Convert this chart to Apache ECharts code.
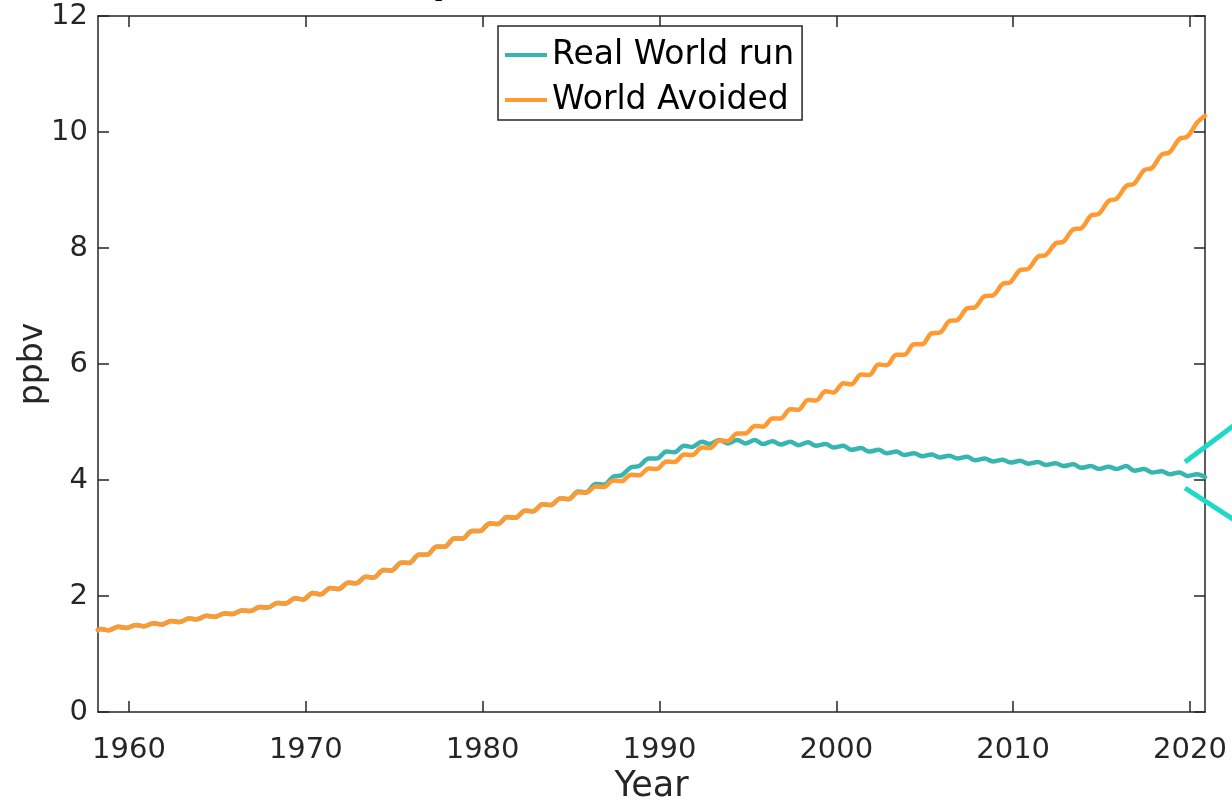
<!DOCTYPE html>
<html>
<head>
<meta charset="utf-8">
<script src="https://cdn.jsdelivr.net/npm/echarts@6/dist/echarts.min.js"></script>
<style>
  html, body { margin: 0; padding: 0; background: #ffffff; }
  #chart { width: 1232px; height: 805px; }
</style>
</head>
<body>
<div id="chart"></div>
<script>
// Monthly-resolution model output summarised as two seasonal samples per year:
// a mid-year peak and a late-year trough (ppbv).
const years = [
  1958, 1959, 1960, 1961, 1962, 1963, 1964, 1965, 1966, 1967,
  1968, 1969, 1970, 1971, 1972, 1973, 1974, 1975, 1976, 1977,
  1978, 1979, 1980, 1981, 1982, 1983, 1984, 1985, 1986, 1987,
  1988, 1989, 1990, 1991, 1992, 1993, 1994, 1995, 1996, 1997,
  1998, 1999, 2000, 2001, 2002, 2003, 2004, 2005, 2006, 2007,
  2008, 2009, 2010, 2011, 2012, 2013, 2014, 2015, 2016, 2017,
  2018, 2019, 2020
];

const xTicks = [1960, 1970, 1980, 1990, 2000, 2010, 2020];
const xRange = [1958.25, 2020.85];
const yRange = [0, 12];
const yStep = 2;

const seriesNames = ['Real World run', 'World Avoided'];

const avoidedStart = 1.41;
const avoidedPeak = [
  1.43, 1.47, 1.50, 1.53, 1.57, 1.61, 1.66, 1.70, 1.75, 1.81,
  1.88, 1.96, 2.05, 2.14, 2.23, 2.33, 2.45, 2.575, 2.71, 2.85,
  2.99, 3.12, 3.25, 3.36, 3.47, 3.58, 3.68, 3.79, 3.89, 3.99,
  4.09, 4.20, 4.32, 4.44, 4.56, 4.68, 4.80, 4.93, 5.06, 5.22,
  5.38, 5.53, 5.67, 5.82, 5.99, 6.16, 6.34, 6.53, 6.74, 6.96,
  7.17, 7.38, 7.62, 7.85, 8.08, 8.32, 8.56, 8.81, 9.07, 9.34,
  9.61, 9.88, 10.16
];
const avoidedTrough = [
  1.41, 1.45, 1.48, 1.51, 1.55, 1.60, 1.64, 1.69, 1.74, 1.80,
  1.87, 1.94, 2.03, 2.12, 2.22, 2.32, 2.44, 2.57, 2.71, 2.85,
  2.99, 3.12, 3.24, 3.35, 3.46, 3.57, 3.67, 3.78, 3.88, 3.98,
  4.08, 4.19, 4.31, 4.43, 4.55, 4.67, 4.80, 4.92, 5.06, 5.21,
  5.37, 5.51, 5.65, 5.81, 5.98, 6.16, 6.34, 6.54, 6.76, 6.98,
  7.18, 7.41, 7.64, 7.88, 8.11, 8.34, 8.59, 8.85, 9.11, 9.38,
  9.65, 9.92, 10.28
];

const realStart = 1.41;
const realPeak = [
  1.43, 1.47, 1.50, 1.53, 1.57, 1.61, 1.66, 1.70, 1.75, 1.81,
  1.88, 1.96, 2.05, 2.14, 2.23, 2.33, 2.45, 2.575, 2.71, 2.85,
  2.99, 3.12, 3.25, 3.36, 3.47, 3.58, 3.68, 3.80, 3.93, 4.06,
  4.22, 4.37, 4.49, 4.59, 4.66, 4.69, 4.69, 4.69, 4.67, 4.66,
  4.65, 4.62, 4.59, 4.55, 4.52, 4.49, 4.46, 4.44, 4.42, 4.40,
  4.37, 4.35, 4.33, 4.31, 4.29, 4.27, 4.24, 4.23, 4.24, 4.19,
  4.15, 4.13, 4.10
];
const realTrough = [
  1.41, 1.45, 1.48, 1.51, 1.55, 1.60, 1.64, 1.69, 1.74, 1.80,
  1.87, 1.94, 2.03, 2.12, 2.22, 2.32, 2.44, 2.57, 2.71, 2.85,
  2.99, 3.12, 3.24, 3.35, 3.46, 3.57, 3.67, 3.79, 3.92, 4.08,
  4.24, 4.37, 4.48, 4.57, 4.62, 4.63, 4.63, 4.62, 4.61, 4.60,
  4.59, 4.56, 4.52, 4.49, 4.46, 4.43, 4.41, 4.39, 4.37, 4.34,
  4.32, 4.30, 4.28, 4.26, 4.24, 4.21, 4.19, 4.19, 4.16, 4.13,
  4.10, 4.07, 4.05
];

// Sample times within each year for the peak and trough values.
const PEAK_PHASE = 0.4;
const TROUGH_PHASE = 0.85;

function seasonalSeries(start, peaks, troughs) {
  const pts = [[xRange[0], start]];
  years.forEach((yr, i) => {
    pts.push([yr + PEAK_PHASE, peaks[i]]);
    pts.push([Math.min(yr + TROUGH_PHASE, xRange[1]), troughs[i]]);
  });
  return pts;
}

const AXIS_COLOR = '#262626';
const FONT = 'DejaVu Sans';
const TEAL = '#37b6b1';
const ORANGE = '#ff9a33';

const axisLineStyle = { color: AXIS_COLOR, width: 1.5 };
const plainNumber = v => String(v);

const chart = echarts.init(document.getElementById('chart'), null, { renderer: 'canvas' });

chart.setOption({
  backgroundColor: '#ffffff',
  animation: false,
  grid: {
    left: 98, top: 16, right: 27, bottom: 93,
    outerBoundsMode: 'none',
    containLabel: false
  },
  legend: {
    orient: 'vertical',
    left: 498, top: 26,
    data: seriesNames,
    icon: 'rect',
    itemWidth: 42, itemHeight: 4,
    itemGap: 9,
    padding: [11, 8, 2, 7],
    borderColor: AXIS_COLOR, borderWidth: 1.5,
    backgroundColor: '#ffffff',
    textStyle: { fontFamily: FONT, fontSize: 33, color: '#000000', lineHeight: 36 }
  },
  xAxis: [
    {
      type: 'value', position: 'bottom',
      min: xRange[0], max: xRange[1],
      name: 'Year', nameLocation: 'middle', nameGap: 49,
      nameTextStyle: { fontFamily: FONT, fontSize: 35, color: AXIS_COLOR },
      axisLine: { show: true, onZero: false, lineStyle: axisLineStyle },
      axisTick: { show: true, inside: true, length: 11, customValues: xTicks, lineStyle: axisLineStyle },
      axisLabel: { show: true, customValues: xTicks, formatter: plainNumber, margin: 24,
                   fontFamily: FONT, fontSize: 29, color: AXIS_COLOR },
      splitLine: { show: false }
    },
    {
      type: 'value', position: 'top',
      min: xRange[0], max: xRange[1],
      axisLine: { show: true, onZero: false, lineStyle: axisLineStyle },
      axisTick: { show: true, inside: true, length: 11, customValues: xTicks, lineStyle: axisLineStyle },
      axisLabel: { show: false },
      splitLine: { show: false }
    }
  ],
  yAxis: [
    {
      type: 'value', position: 'left',
      min: yRange[0], max: yRange[1], interval: yStep,
      name: 'ppbv', nameLocation: 'middle', nameGap: 48, nameRotate: 90,
      nameMoveOverlap: false,
      nameTextStyle: { fontFamily: FONT, fontSize: 33, color: AXIS_COLOR },
      axisLine: { show: true, onZero: false, lineStyle: axisLineStyle },
      axisTick: { show: true, inside: true, length: 11, lineStyle: axisLineStyle },
      axisLabel: { show: true, margin: 10, formatter: plainNumber,
                   fontFamily: FONT, fontSize: 29, color: AXIS_COLOR },
      splitLine: { show: false }
    },
    {
      type: 'value', position: 'right',
      min: yRange[0], max: yRange[1], interval: yStep,
      axisLine: { show: true, onZero: false, lineStyle: axisLineStyle },
      axisTick: { show: true, inside: true, length: 11, lineStyle: axisLineStyle },
      axisLabel: { show: false },
      splitLine: { show: false }
    }
  ],
  series: [
    {
      name: seriesNames[0], type: 'line',
      xAxisIndex: 0, yAxisIndex: 0,
      data: seasonalSeries(realStart, realPeak, realTrough),
      showSymbol: false, symbol: 'none', smooth: 0.35,
      color: TEAL,
      lineStyle: { color: TEAL, width: 4.5, join: 'round', cap: 'round' },
      z: 3
    },
    {
      name: seriesNames[1], type: 'line',
      xAxisIndex: 0, yAxisIndex: 0,
      data: seasonalSeries(avoidedStart, avoidedPeak, avoidedTrough),
      showSymbol: false, symbol: 'none', smooth: 0.35,
      color: ORANGE,
      lineStyle: { color: ORANGE, width: 4.5, join: 'round', cap: 'round' },
      z: 4
    }
  ],
  graphic: [
    // zoom-inset connector strokes at the right edge
    { type: 'line', z: 100, shape: { x1: 1185, y1: 462, x2: 1236, y2: 424 },
      style: { stroke: '#1fd8c8', lineWidth: 5 } },
    { type: 'line', z: 100, shape: { x1: 1185, y1: 488, x2: 1236, y2: 521 },
      style: { stroke: '#1fd8c8', lineWidth: 5 } },
    // descender of the panel heading above the frame
    { type: 'text', z: 100, x: 435, y: 2,
      style: { text: 'p', font: 'bold 26px "Liberation Serif"', fill: '#000000',
               align: 'left', verticalAlign: 'bottom' } }
  ]
});
</script>
</body>
</html>
